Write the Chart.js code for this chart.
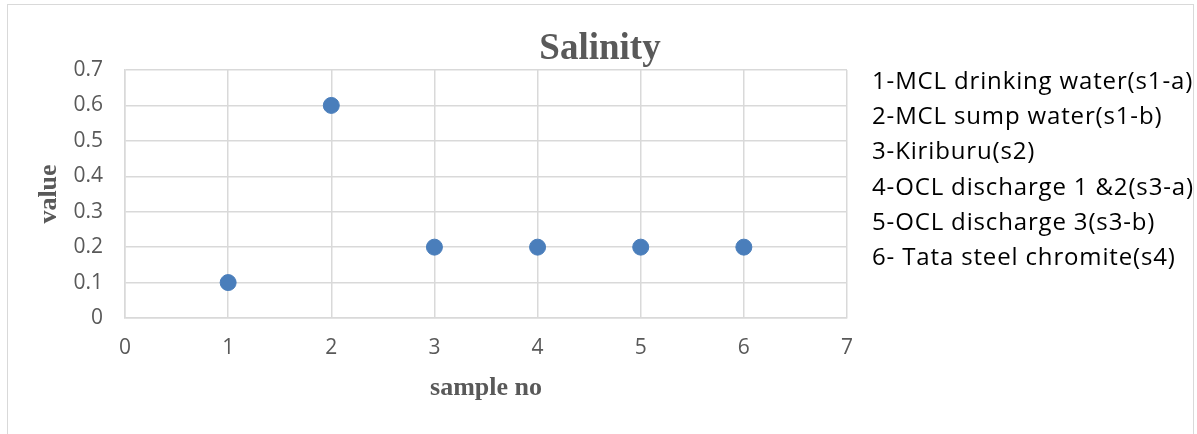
<!DOCTYPE html>
<html>
<head>
<meta charset="utf-8">
<script src="https://cdn.jsdelivr.net/npm/chart.js@4"></script>
<style>
  html, body { margin: 0; padding: 0; background: #fff; }
  #wrap { position: relative; width: 1197px; height: 434px; overflow: hidden; }
  #frame { position: absolute; left: 7px; top: 4px; width: 1185px; height: 450px; border: 1px solid #d9d9d9; }
  #notes { position: absolute; left: 872px; top: 62px; font-family: "Open Sans", sans-serif; font-size: 24px; letter-spacing: 0.85px; line-height: 35.2px; color: #000; white-space: nowrap; }
</style>
</head>
<body>
<div id="wrap">
  <div id="frame"></div>
  <canvas id="plots" width="1197" height="434"></canvas>
  <div id="notes"></div>
</div>
<script>
// sample numbers and salinity values
var sampleNo = [1, 2, 3, 4, 5, 6];
var salinity = [0.1, 0.6, 0.2, 0.2, 0.2, 0.2];
var sampleNames = [
    "1-MCL drinking water(s1-a)",
    "2-MCL sump water(s1-b)",
    "3-Kiriburu(s2)",
    "4-OCL discharge 1 &2(s3-a)",
    "5-OCL discharge 3(s3-b)",
    "6- Tata steel chromite(s4)"
];

document.getElementById("notes").innerHTML = sampleNames.map(function (s) {
    return "<div>" + s.replace(/&/g, "&amp;") + "</div>";
}).join("");

var points = sampleNo.map(function (x, i) { return { x: x, y: salinity[i] }; });

// title drawn on top of the plot
var titlePlugin = {
    id: 'titleText',
    afterDraw: function (chart) {
        var ctx = chart.ctx;
        ctx.save();
        ctx.font = 'bold 37px "Liberation Serif", serif';
        ctx.fillStyle = '#595959';
        ctx.textAlign = 'center';
        ctx.textBaseline = 'alphabetic';
        ctx.fillText('Salinity', 600, 59);
        ctx.restore();
    }
};

var plots = document.getElementById("plots");
new Chart(plots, {
    type: 'scatter',
    data: {
        datasets: [{
            data: points,
            backgroundColor: '#4a7ebb',
            borderColor: '#4a7ebb',
            pointRadius: 8,
            pointHoverRadius: 8,
        }],
    },
    options: {
        responsive: false,
        animation: false,
        events: [],
        layout: {
            padding: { left: 0, right: 350, top: 70, bottom: 0 },
        },
        plugins: {
            legend: { display: false },
            tooltip: { enabled: false },
        },
        scales: {
            x: {
                type: 'linear',
                min: 0,
                max: 7,
                afterFit: function (s) { s.height = 116; },
                ticks: {
                    stepSize: 1,
                    padding: 17,
                    color: '#595959',
                    font: { family: '"Open Sans", sans-serif', size: 21 },
                },
                grid: { color: '#d9d9d9', lineWidth: 1.5, drawTicks: false },
                border: { color: '#d9d9d9', width: 1.5 },
                title: {
                    display: true,
                    text: 'sample no',
                    color: '#595959',
                    padding: { top: 0, bottom: 30 },
                    font: { family: '"Liberation Serif", serif', size: 26, weight: 'bold' },
                },
            },
            y: {
                min: 0,
                max: 0.7,
                afterFit: function (s) { s.width = 125; },
                ticks: {
                    stepSize: 0.1,
                    padding: 22,
                    color: '#595959',
                    font: { family: '"Open Sans", sans-serif', size: 21 },
                },
                grid: { color: '#d9d9d9', lineWidth: 1.5, drawTicks: false },
                border: { color: '#d9d9d9', width: 1.5 },
                title: {
                    display: true,
                    text: 'value',
                    color: '#595959',
                    padding: { top: 34, bottom: 0 },
                    font: { family: '"Liberation Serif", serif', size: 26, weight: 'bold' },
                },
            },
        },
    },
    plugins: [titlePlugin],
});
</script>
</body>
</html>
